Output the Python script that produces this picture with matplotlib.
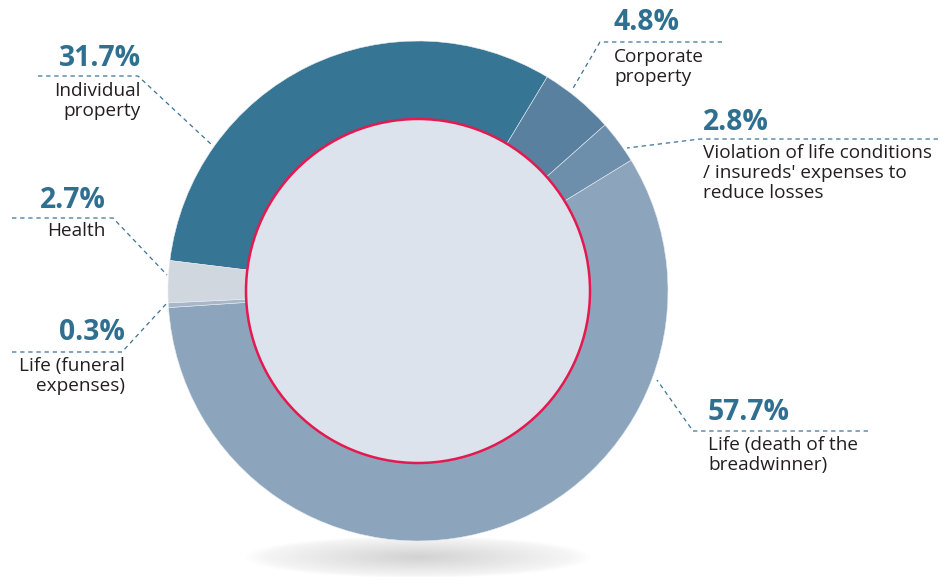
import matplotlib
matplotlib.use("Agg")
import matplotlib.pyplot as plt
from matplotlib.patches import Circle, Ellipse

# ---- data ----
categories = ["Individual property", "Corporate property",
              "Violation of life conditions / insureds' expenses to reduce losses",
              "Life (death of the breadwinner)", "Life (funeral expenses)", "Health"]
shares = [31.7, 4.8, 2.8, 57.7, 0.3, 2.7]
pct_labels = ["31.7%", "4.8%", "2.8%", "57.7%", "0.3%", "2.7%"]
text_labels = ["Individual\nproperty", "Corporate\nproperty",
               "Violation of life conditions\n/ insureds' expenses to\nreduce losses",
               "Life (death of the\nbreadwinner)", "Life (funeral\nexpenses)", "Health"]
colors = ["#367594", "#5a80a0", "#6d8fac", "#8ca5bc", "#a7b6c8", "#d0d7df"]

W, H = 941, 577
fig = plt.figure(figsize=(W / 100, H / 100), dpi=100)
ax = fig.add_axes([0, 0, 1, 1])
ax.set_xlim(0, W)
ax.set_ylim(0, H)
ax.axis("off")

def Y(y):
    return H - y

cx, cy, R, r_in = 418, 291, 250, 172

# shadow
n = 40
for i in range(n):
    f = 1 - i / n
    ax.add_patch(Ellipse((cx, Y(557)), 345 * f, 42 * f, facecolor="#a0a0a0",
                         edgecolor="none", alpha=0.011, zorder=0))

ax.pie(shares, colors=colors, startangle=173.0, counterclock=False,
       center=(cx, Y(cy)), radius=R, frame=True,
       wedgeprops=dict(width=R - r_in + 5, edgecolor="#e6ebf0", linewidth=0.4))
ax.set_xlim(0, W)
ax.set_ylim(0, H)
ax.set_aspect("equal")
ax.axis("off")

ax.add_patch(Circle((cx, Y(cy)), r_in, facecolor="#dde3ec", edgecolor="#e5194f",
                    linewidth=1.8, zorder=5))

pct_color = "#2f6f90"
txt_color = "#231f20"
line_color = "#3a7396"
bold = dict(family="Open Sans", weight="bold", size=20.3, color=pct_color)
reg = dict(family="Open Sans", size=13.7, color=txt_color, linespacing=1.16)

def leader(xs, ys):
    ax.plot(xs, [Y(v) for v in ys], color=line_color, lw=0.9,
            linestyle=(0, (3.5, 3)), zorder=6)

# Individual property
ax.text(141, Y(58), pct_labels[0], ha="right", va="center", **bold)
ax.text(141, Y(82), text_labels[0], ha="right", va="top", **reg)
leader([38, 138, 212], [76, 76, 145])

# Corporate property
ax.text(614, Y(23), pct_labels[1], ha="left", va="center", **bold)
ax.text(614, Y(48), text_labels[1], ha="left", va="top", **reg)
leader([722, 600, 572], [42, 42, 90])

# Violation
ax.text(703, Y(122), pct_labels[2], ha="left", va="center", **bold)
ax.text(703, Y(144), text_labels[2], ha="left", va="top", **reg)
leader([938, 700, 627], [139, 139, 148])

# Life death
ax.text(708, Y(413), pct_labels[3], ha="left", va="center", **bold)
ax.text(708, Y(436), text_labels[3], ha="left", va="top", **reg)
leader([868, 693, 657], [431, 431, 380])

# Funeral
ax.text(125, Y(333), pct_labels[4], ha="right", va="center", **bold)
ax.text(125, Y(357), text_labels[4], ha="right", va="top", **reg)
leader([12, 122, 167], [352, 352, 303])

# Health
ax.text(106, Y(201), pct_labels[5], ha="right", va="center", **bold)
ax.text(106, Y(222), text_labels[5], ha="right", va="top", **reg)
leader([12, 113, 167], [218, 218, 275])

fig.savefig("out.png", dpi=100)
